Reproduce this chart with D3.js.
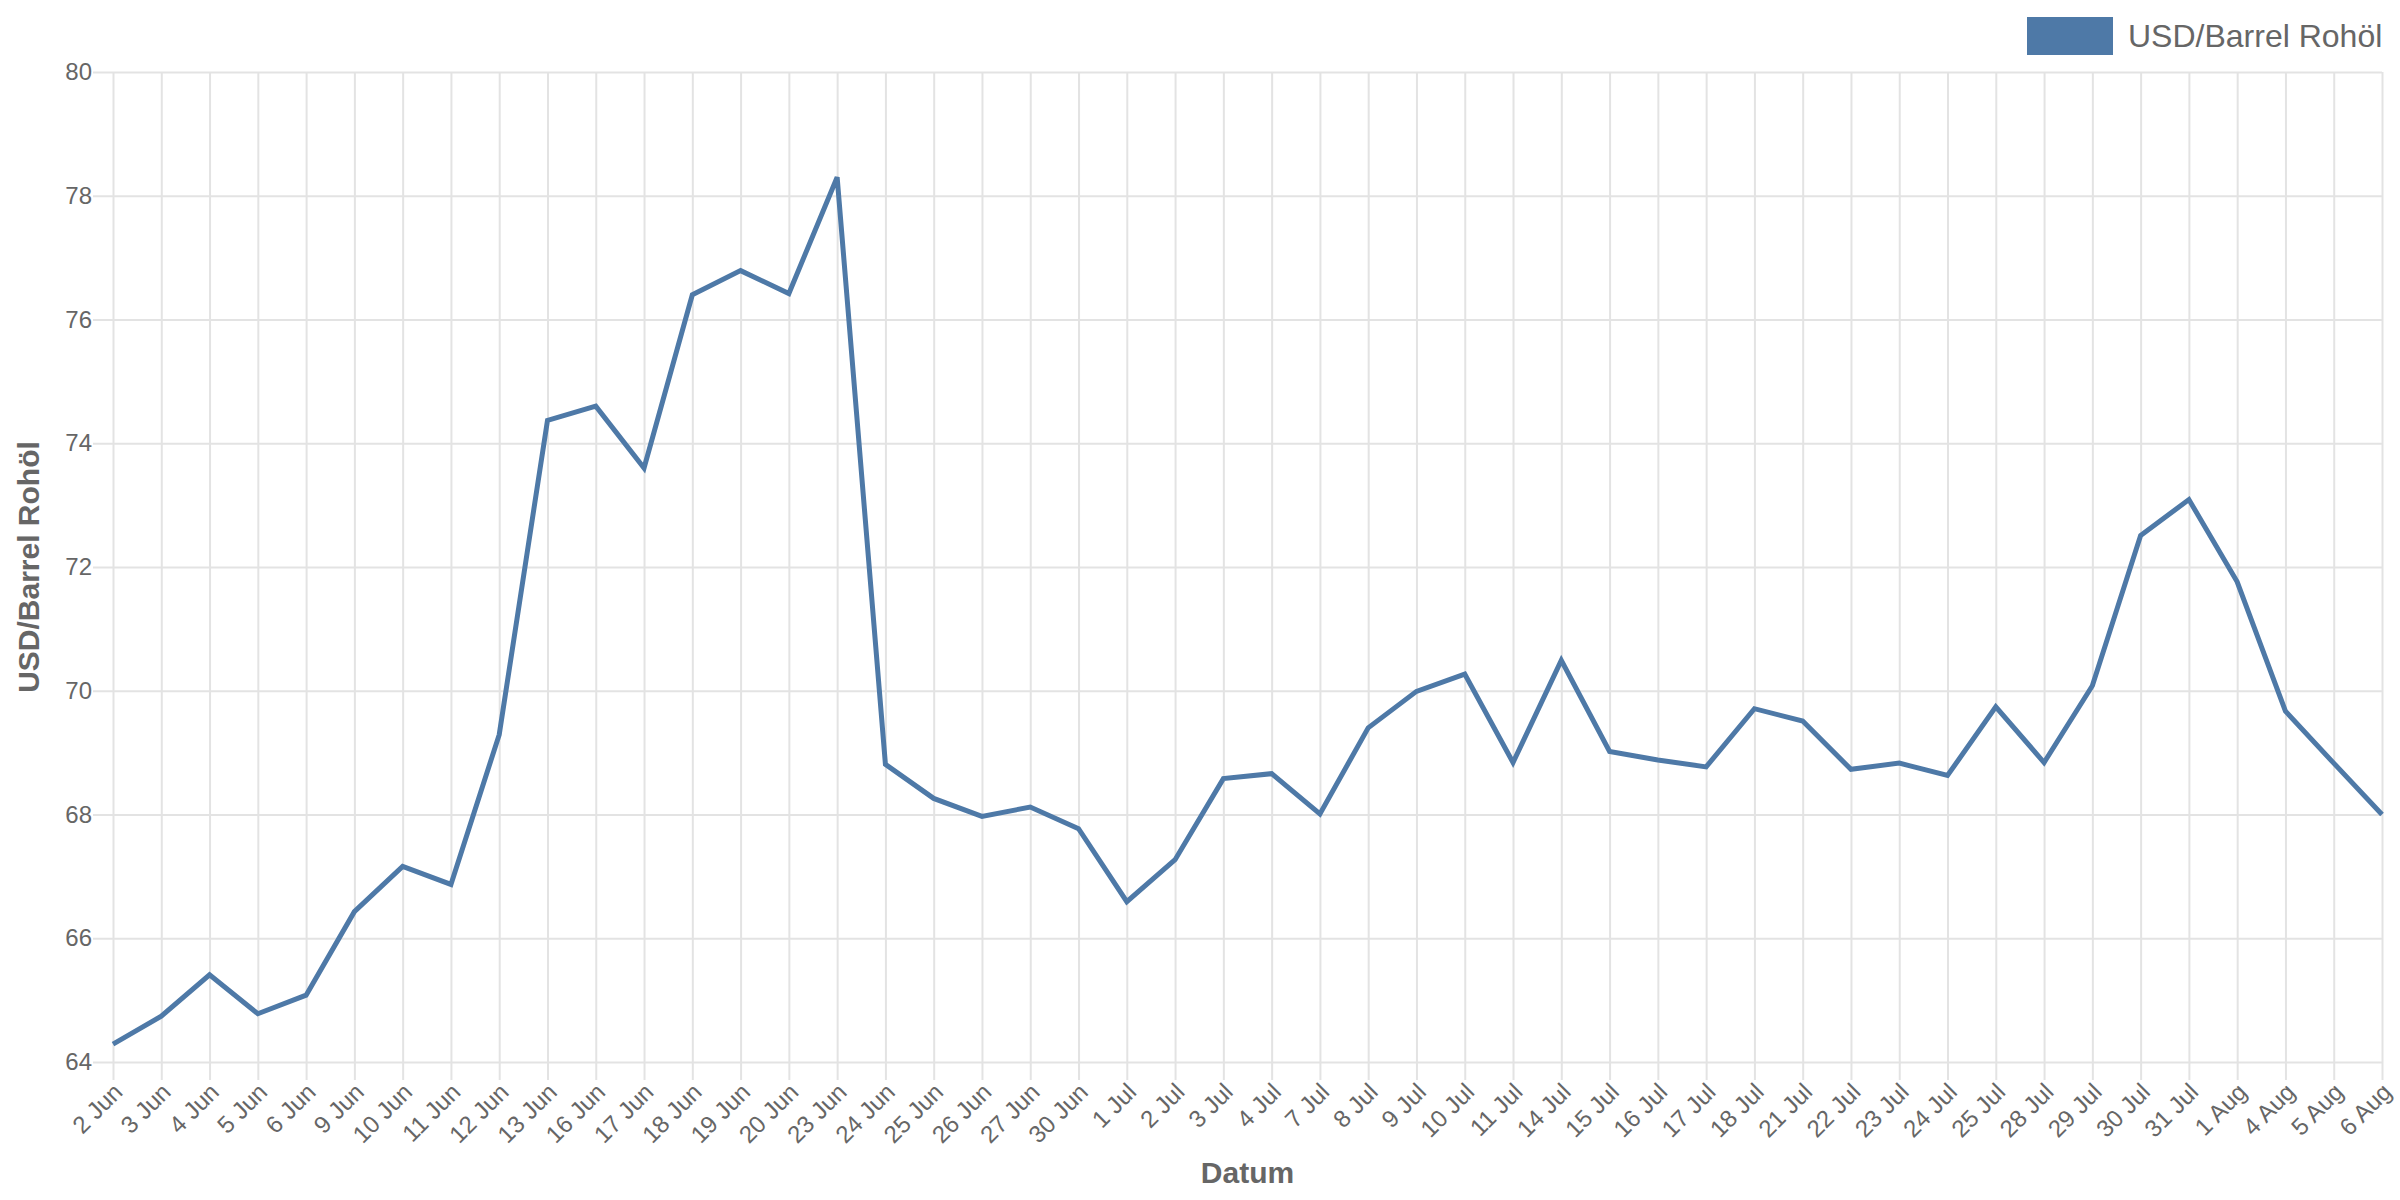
<!DOCTYPE html>
<html>
<head>
<meta charset="utf-8">
<script src="https://cdn.jsdelivr.net/npm/d3@7"></script>
<style>
  html, body { margin: 0; padding: 0; background: #fff; }
  svg { display: block; }
  text { font-family: "Liberation Sans", Arial, sans-serif; fill: #666; }
</style>
</head>
<body>
<svg id="chart" width="2400" height="1200"></svg>
<script>
const categories = ["2 Jun","3 Jun","4 Jun","5 Jun","6 Jun","9 Jun","10 Jun","11 Jun","12 Jun","13 Jun",
  "16 Jun","17 Jun","18 Jun","19 Jun","20 Jun","23 Jun","24 Jun","25 Jun","26 Jun","27 Jun",
  "30 Jun","1 Jul","2 Jul","3 Jul","4 Jul","7 Jul","8 Jul","9 Jul","10 Jul","11 Jul",
  "14 Jul","15 Jul","16 Jul","17 Jul","18 Jul","21 Jul","22 Jul","23 Jul","24 Jul","25 Jul",
  "28 Jul","29 Jul","30 Jul","31 Jul","1 Aug","4 Aug","5 Aug","6 Aug"];
const oilPrice = [64.29,64.74,65.41,64.78,65.08,66.43,67.16,66.87,69.29,74.37,
  74.60,73.60,76.40,76.79,76.42,78.30,68.81,68.26,67.97,68.12,
  67.77,66.59,67.27,68.58,68.66,68.01,69.40,69.99,70.27,68.84,
  70.49,69.02,68.88,68.77,69.71,69.51,68.73,68.83,68.63,69.74,
  68.84,70.08,72.51,73.09,71.76,69.67,68.83,68.00];
const yTicks = [64,66,68,70,72,74,76,78,80];
const seriesName = "USD/Barrel Rohöl";
const xTitle = "Datum";
const yTitle = "USD/Barrel Rohöl";

const W = 2400, H = 1200;
const m = {left: 113, right: 2382, top: 72, bottom: 1062};
const color = "#4e79a7";
const gridColor = "#e3e3e3";

const svg = d3.select("#chart");

const x = d3.scalePoint().domain(categories).range([m.left, m.right]);
const y = d3.scaleLinear().domain([64, 80]).range([m.bottom, m.top]);

// horizontal grid + y ticks
const yAxis = d3.axisLeft(y).tickValues(yTicks).tickFormat(d3.format("d"))
  .tickSize(m.right - m.left + 20).tickPadding(1);
const gy = svg.append("g").attr("transform", `translate(${m.right},0)`).call(yAxis);
gy.select(".domain").remove();
gy.selectAll(".tick line").attr("stroke", gridColor).attr("stroke-width", 2);
gy.selectAll(".tick text").attr("font-size", 24).attr("fill", "#666")
  .style("font-family", '"Liberation Sans", Arial, sans-serif');

// vertical grid + x ticks
const xAxis = d3.axisBottom(x).tickSize(m.bottom - m.top + 18).tickPadding(0);
const gx = svg.append("g").attr("transform", `translate(0,${m.top})`).call(xAxis);
gx.select(".domain").remove();
gx.selectAll(".tick line").attr("stroke", gridColor).attr("stroke-width", 2);
gx.selectAll(".tick text")
  .attr("font-size", 24).attr("fill", "#666")
  .style("font-family", '"Liberation Sans", Arial, sans-serif')
  .attr("text-anchor", "end")
  .attr("dy", null)
  .attr("y", 0)
  .attr("transform", `translate(6,${m.bottom - m.top + 27}) rotate(-45)`)
  .attr("dominant-baseline", "middle");

// line
const line = d3.line().x((d, i) => x(categories[i])).y(d => y(d));
svg.append("path").datum(oilPrice)
  .attr("d", line)
  .attr("fill", "none")
  .attr("stroke", color)
  .attr("stroke-width", 5)
  .attr("stroke-linejoin", "miter");

// axis titles
svg.append("text").attr("x", (m.left + m.right) / 2).attr("y", 1183)
  .attr("text-anchor", "middle").attr("font-size", 30).attr("font-weight", "bold")
  .text(xTitle);
svg.append("text").attr("transform", `translate(39,${(m.top + m.bottom) / 2}) rotate(-90)`)
  .attr("text-anchor", "middle").attr("font-size", 30).attr("font-weight", "bold")
  .text(yTitle);

// legend
const lg = svg.append("g");
lg.append("rect").attr("x", 2027).attr("y", 17).attr("width", 86).attr("height", 38).attr("fill", color);
lg.append("text").attr("x", 2128).attr("y", 47).attr("font-size", 32).text(seriesName);
</script>
</body>
</html>
